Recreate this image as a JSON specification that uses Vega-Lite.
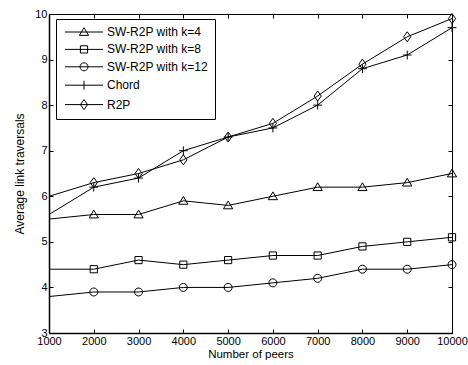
{
  "$schema": "https://vega.github.io/schema/vega-lite/v6.json",
  "autosize": "none",
  "width": 403,
  "height": 319,
  "padding": {"left": 49, "top": 14, "right": 16, "bottom": 32},
  "background": "white",
  "config": {
    "view": {"stroke": null},
    "font": "Liberation Sans",
    "axis": {
      "grid": false,
      "domainColor": "black",
      "tickColor": "black",
      "labelColor": "black",
      "titleColor": "black",
      "labelFontSize": 11,
      "titleFontSize": 11.5,
      "titleFontWeight": "normal",
      "tickSize": -4,
      "labelPadding": 6,
      "labelFlush": false
    },
    "legend": {"labelFont": "Liberation Sans", "labelFontSize": 12}
  },
  "data": {
    "values": [
      {"peers": 1000, "series": "SW-R2P with k=4", "v": 5.5},
      {"peers": 2000, "series": "SW-R2P with k=4", "v": 5.6},
      {"peers": 3000, "series": "SW-R2P with k=4", "v": 5.6},
      {"peers": 4000, "series": "SW-R2P with k=4", "v": 5.9},
      {"peers": 5000, "series": "SW-R2P with k=4", "v": 5.8},
      {"peers": 6000, "series": "SW-R2P with k=4", "v": 6.0},
      {"peers": 7000, "series": "SW-R2P with k=4", "v": 6.2},
      {"peers": 8000, "series": "SW-R2P with k=4", "v": 6.2},
      {"peers": 9000, "series": "SW-R2P with k=4", "v": 6.3},
      {"peers": 10000, "series": "SW-R2P with k=4", "v": 6.5},
      {"peers": 1000, "series": "SW-R2P with k=8", "v": 4.4},
      {"peers": 2000, "series": "SW-R2P with k=8", "v": 4.4},
      {"peers": 3000, "series": "SW-R2P with k=8", "v": 4.6},
      {"peers": 4000, "series": "SW-R2P with k=8", "v": 4.5},
      {"peers": 5000, "series": "SW-R2P with k=8", "v": 4.6},
      {"peers": 6000, "series": "SW-R2P with k=8", "v": 4.7},
      {"peers": 7000, "series": "SW-R2P with k=8", "v": 4.7},
      {"peers": 8000, "series": "SW-R2P with k=8", "v": 4.9},
      {"peers": 9000, "series": "SW-R2P with k=8", "v": 5.0},
      {"peers": 10000, "series": "SW-R2P with k=8", "v": 5.1},
      {"peers": 1000, "series": "SW-R2P with k=12", "v": 3.8},
      {"peers": 2000, "series": "SW-R2P with k=12", "v": 3.9},
      {"peers": 3000, "series": "SW-R2P with k=12", "v": 3.9},
      {"peers": 4000, "series": "SW-R2P with k=12", "v": 4.0},
      {"peers": 5000, "series": "SW-R2P with k=12", "v": 4.0},
      {"peers": 6000, "series": "SW-R2P with k=12", "v": 4.1},
      {"peers": 7000, "series": "SW-R2P with k=12", "v": 4.2},
      {"peers": 8000, "series": "SW-R2P with k=12", "v": 4.4},
      {"peers": 9000, "series": "SW-R2P with k=12", "v": 4.4},
      {"peers": 10000, "series": "SW-R2P with k=12", "v": 4.5},
      {"peers": 1000, "series": "Chord", "v": 5.6},
      {"peers": 2000, "series": "Chord", "v": 6.2},
      {"peers": 3000, "series": "Chord", "v": 6.4},
      {"peers": 4000, "series": "Chord", "v": 7.0},
      {"peers": 5000, "series": "Chord", "v": 7.3},
      {"peers": 6000, "series": "Chord", "v": 7.5},
      {"peers": 7000, "series": "Chord", "v": 8.0},
      {"peers": 8000, "series": "Chord", "v": 8.8},
      {"peers": 9000, "series": "Chord", "v": 9.1},
      {"peers": 10000, "series": "Chord", "v": 9.7},
      {"peers": 1000, "series": "R2P", "v": 6.0},
      {"peers": 2000, "series": "R2P", "v": 6.3},
      {"peers": 3000, "series": "R2P", "v": 6.5},
      {"peers": 4000, "series": "R2P", "v": 6.8},
      {"peers": 5000, "series": "R2P", "v": 7.3},
      {"peers": 6000, "series": "R2P", "v": 7.6},
      {"peers": 7000, "series": "R2P", "v": 8.2},
      {"peers": 8000, "series": "R2P", "v": 8.9},
      {"peers": 9000, "series": "R2P", "v": 9.5},
      {"peers": 10000, "series": "R2P", "v": 9.9}
    ]
  },
  "resolve": {"scale": {"shape": "independent"}, "legend": {"shape": "independent"}},
  "layer": [
    {
      "mark": {"type": "line", "color": "black", "strokeWidth": 1},
      "encoding": {
        "x": {
          "field": "peers", "type": "quantitative",
          "scale": {"domain": [1000, 10000], "nice": false},
          "axis": {"orient": "bottom", "title": "Number of peers", "values": [1000,2000,3000,4000,5000,6000,7000,8000,9000,10000], "format": "d", "titlePadding": 2, "domainWidth": 1.5}
        },
        "y": {
          "field": "v", "type": "quantitative",
          "scale": {"domain": [3, 10], "nice": false},
          "axis": {"orient": "left", "title": "Average link traversals", "values": [3,4,5,6,7,8,9,10], "titlePadding": 8, "titleFontSize": 12, "domainWidth": 1.5}
        },
        "detail": {"field": "series"}
      }
    },
    {
      "transform": [{"filter": "datum.peers > 1000"}],
      "mark": {"type": "point", "filled": false, "color": "black", "strokeWidth": 1, "size": 64, "opacity": 1},
      "encoding": {
        "x": {"field": "peers", "type": "quantitative", "axis": {"orient": "top", "labels": false, "title": null, "values": [1000,2000,3000,4000,5000,6000,7000,8000,9000,10000]}},
        "y": {"field": "v", "type": "quantitative", "axis": {"orient": "right", "labels": false, "title": null, "values": [3,4,5,6,7,8,9,10]}},
        "shape": {
          "field": "series", "type": "nominal",
          "scale": {
            "domain": ["SW-R2P with k=4", "SW-R2P with k=8", "SW-R2P with k=12", "Chord", "R2P"],
            "range": ["M0,-1.1L1.15,0.85L-1.15,0.85Z", "M-0.9,-0.9H0.9V0.9H-0.9Z", "M-1,0A1,1 0 1,0 1,0A1,1 0 1,0 -1,0Z", "M-1.1,0H1.1M0,-1.1V1.1", "M0,-1.25L0.9,0L0,1.25L-0.9,0Z"]
          },
          "legend": null
        }
      }
    },
    {
      "transform": [{"filter": "datum.peers < 0"}],
      "mark": {"type": "point", "filled": false, "color": "black", "strokeWidth": 1, "size": 64, "opacity": 1},
      "encoding": {
        "x": {"field": "peers", "type": "quantitative", "axis": null},
        "y": {"field": "v", "type": "quantitative", "axis": null},
        "shape": {
          "field": "series", "type": "nominal",
          "scale": {
            "domain": ["SW-R2P with k=4", "SW-R2P with k=8", "SW-R2P with k=12", "Chord", "R2P"],
            "range": ["M-1,0H8.5M3.75,-1.1L4.9,0.85L2.6,0.85Z", "M-1,0H8.5M2.85,-0.9H4.65V0.9H2.85Z", "M-1,0H8.5M2.75,0A1,1 0 1,0 4.75,0A1,1 0 1,0 2.75,0Z", "M-1,0H8.5M3.75,-1.1V1.1", "M-1,0H8.5M3.75,-1.25L4.65,0L3.75,1.25L2.85,0Z"]
          },
          "legend": {
            "title": null,
            "orient": "none",
            "legendX": 7,
            "legendY": 5,
            "fillColor": "white",
            "strokeColor": "black",
            "padding": 7,
            "labelFontSize": 12,
            "labelColor": "black",
            "labelOffset": 32,
            "rowPadding": 5.4,
            "symbolSize": 64,
            "symbolStrokeColor": "black",
            "symbolFillColor": "transparent",
            "symbolStrokeWidth": 1
          }
        }
      }
    }
  ]
}
